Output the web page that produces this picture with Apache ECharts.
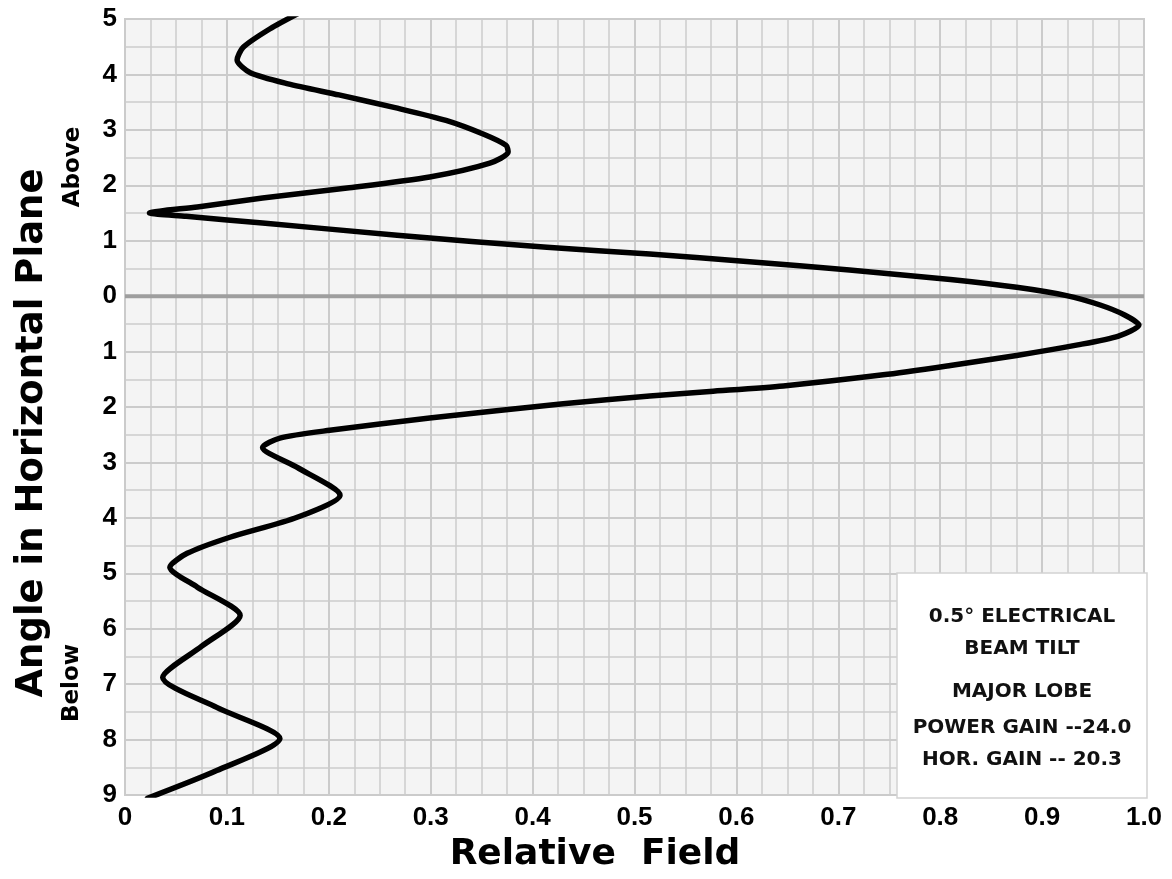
<!DOCTYPE html>
<html>
<head>
<meta charset="utf-8">
<script src="https://cdn.jsdelivr.net/npm/echarts@6/dist/echarts.min.js"></script>
<style>
  html, body { margin: 0; padding: 0; background: #ffffff; }
  #chart { width: 1172px; height: 879px; }
</style>
</head>
<body>
<div id="chart"></div>
<script>
// Vertical pattern: relative field versus angle (positive = above horizontal, negative = below)
const relativeField = [
  0.170, 0.142, 0.116, 0.110, 0.123, 0.160, 0.210, 0.265, 0.315, 0.352,
  0.374, 0.376, 0.358, 0.299, 0.218, 0.135, 0.071, 0.024, 0.060, 0.135,
  0.267, 0.414, 0.515, 0.613, 0.711, 0.810, 0.875, 0.924, 0.957, 0.981,
  0.995, 0.975, 0.935, 0.875, 0.810, 0.744, 0.646, 0.574, 0.515, 0.430,
  0.299, 0.201, 0.152, 0.135, 0.169, 0.211, 0.169, 0.103, 0.061, 0.044,
  0.071, 0.113, 0.075, 0.037, 0.090, 0.152, 0.090, 0.022
];
const angleDeg = [
  5.10, 4.82, 4.49, 4.26, 4.03, 3.83, 3.63, 3.40, 3.17, 2.92,
  2.72, 2.60, 2.40, 2.15, 1.95, 1.77, 1.61, 1.50, 1.44, 1.32,
  1.10, 0.88, 0.76, 0.62, 0.47, 0.30, 0.16, 0.01, -0.16, -0.34,
  -0.52, -0.72, -0.88, -1.07, -1.25, -1.42, -1.62, -1.72, -1.80, -1.94,
  -2.20, -2.42, -2.56, -2.73, -3.09, -3.59, -3.99, -4.35, -4.64, -4.89,
  -5.25, -5.76, -6.32, -6.88, -7.42, -7.98, -8.56, -9.06
];

// Axis tick labels
const fieldTickLabels = ['0', '0.1', '0.2', '0.3', '0.4', '0.5', '0.6', '0.7', '0.8', '0.9', '1.0'];
const angleTickLabels = ['9', '8', '7', '6', '5', '4', '3', '2', '1', '0', '1', '2', '3', '4', '5'];

// Horizontal reference at 0 degrees
const horizonLine = [[0, 0], [1, 0]];

// Annotation text
const noteLines = ['0.5\u00B0 ELECTRICAL', 'BEAM TILT', 'MAJOR LOBE', 'POWER GAIN --24.0', 'HOR. GAIN -- 20.3'];
const noteLineY = [617, 649, 692, 728, 760];

const patternData = relativeField.map((f, i) => [f, angleDeg[i]]);

const gridColor = '#cbcbcb';
const tickFont = { fontFamily: '"Liberation Sans", Arial, sans-serif', fontWeight: 'bold', fontSize: 26, color: '#000' };

const chart = echarts.init(document.getElementById('chart'), null, { renderer: 'canvas' });

const graphics = [
  {
    type: 'text', x: 32, y: 433, rotation: Math.PI / 2, z: 10,
    style: { text: 'Angle in Horizontal Plane', font: 'bold 37px "DejaVu Sans"', fill: '#000', textAlign: 'center', textVerticalAlign: 'middle' }
  },
  {
    type: 'text', x: 73, y: 167, rotation: Math.PI / 2, z: 10,
    style: { text: 'Above', font: 'bold 23px "DejaVu Sans"', fill: '#000', textAlign: 'center', textVerticalAlign: 'middle' }
  },
  {
    type: 'text', x: 72, y: 683, rotation: Math.PI / 2, z: 10,
    style: { text: 'Below', font: 'bold 23px "DejaVu Sans"', fill: '#000', textAlign: 'center', textVerticalAlign: 'middle' }
  },
  {
    type: 'text', x: 595, y: 855, z: 10,
    style: { text: 'Relative  Field', font: 'bold 36px "DejaVu Sans"', fill: '#000', textAlign: 'center', textVerticalAlign: 'middle' }
  },
  {
    type: 'rect', z: 20,
    shape: { x: 897, y: 573, width: 250, height: 225 },
    style: { fill: '#ffffff', stroke: '#d2d2d2', lineWidth: 1.5 }
  }
];
noteLines.forEach((t, i) => {
  graphics.push({
    type: 'text', x: 1022, y: noteLineY[i], z: 21,
    style: { text: t, font: 'bold 20px "DejaVu Sans"', fill: '#111', textAlign: 'center', textVerticalAlign: 'middle' }
  });
});

chart.setOption({
  animation: false,
  backgroundColor: '#ffffff',
  grid: {
    left: 125, right: 28, top: 19, bottom: 84,
    show: true, backgroundColor: '#f4f4f4', borderColor: gridColor, borderWidth: 2,
    containLabel: false, outerBoundsMode: 'none'
  },
  xAxis: {
    type: 'value', min: 0, max: 1, interval: 0.1,
    axisLine: { show: false }, axisTick: { show: false },
    axisLabel: Object.assign({ margin: 10, formatter: v => fieldTickLabels[Math.round(v * 10)] }, tickFont),
    splitLine: { show: true, lineStyle: { color: gridColor, width: 2 } },
    minorTick: { show: false, splitNumber: 4 },
    minorSplitLine: { show: true, lineStyle: { color: gridColor, width: 1.5 } }
  },
  yAxis: {
    type: 'value', min: -9, max: 5, interval: 1,
    axisLine: { show: false }, axisTick: { show: false },
    axisLabel: Object.assign({ margin: 8, formatter: v => angleTickLabels[Math.round(v) + 9] }, tickFont),
    splitLine: { show: true, lineStyle: { color: gridColor, width: 2 } },
    minorTick: { show: false, splitNumber: 2 },
    minorSplitLine: { show: true, lineStyle: { color: gridColor, width: 1.5 } }
  },
  series: [
    {
      type: 'line', data: horizonLine, showSymbol: false, silent: true, z: 2,
      lineStyle: { color: '#9e9e9e', width: 4 }
    },
    {
      type: 'line', data: patternData, showSymbol: false, smooth: 0.25, clip: true, z: 3,
      lineStyle: { color: '#000000', width: 5.5, cap: 'round', join: 'round' }
    }
  ],
  graphic: graphics
});
</script>
</body>
</html>
